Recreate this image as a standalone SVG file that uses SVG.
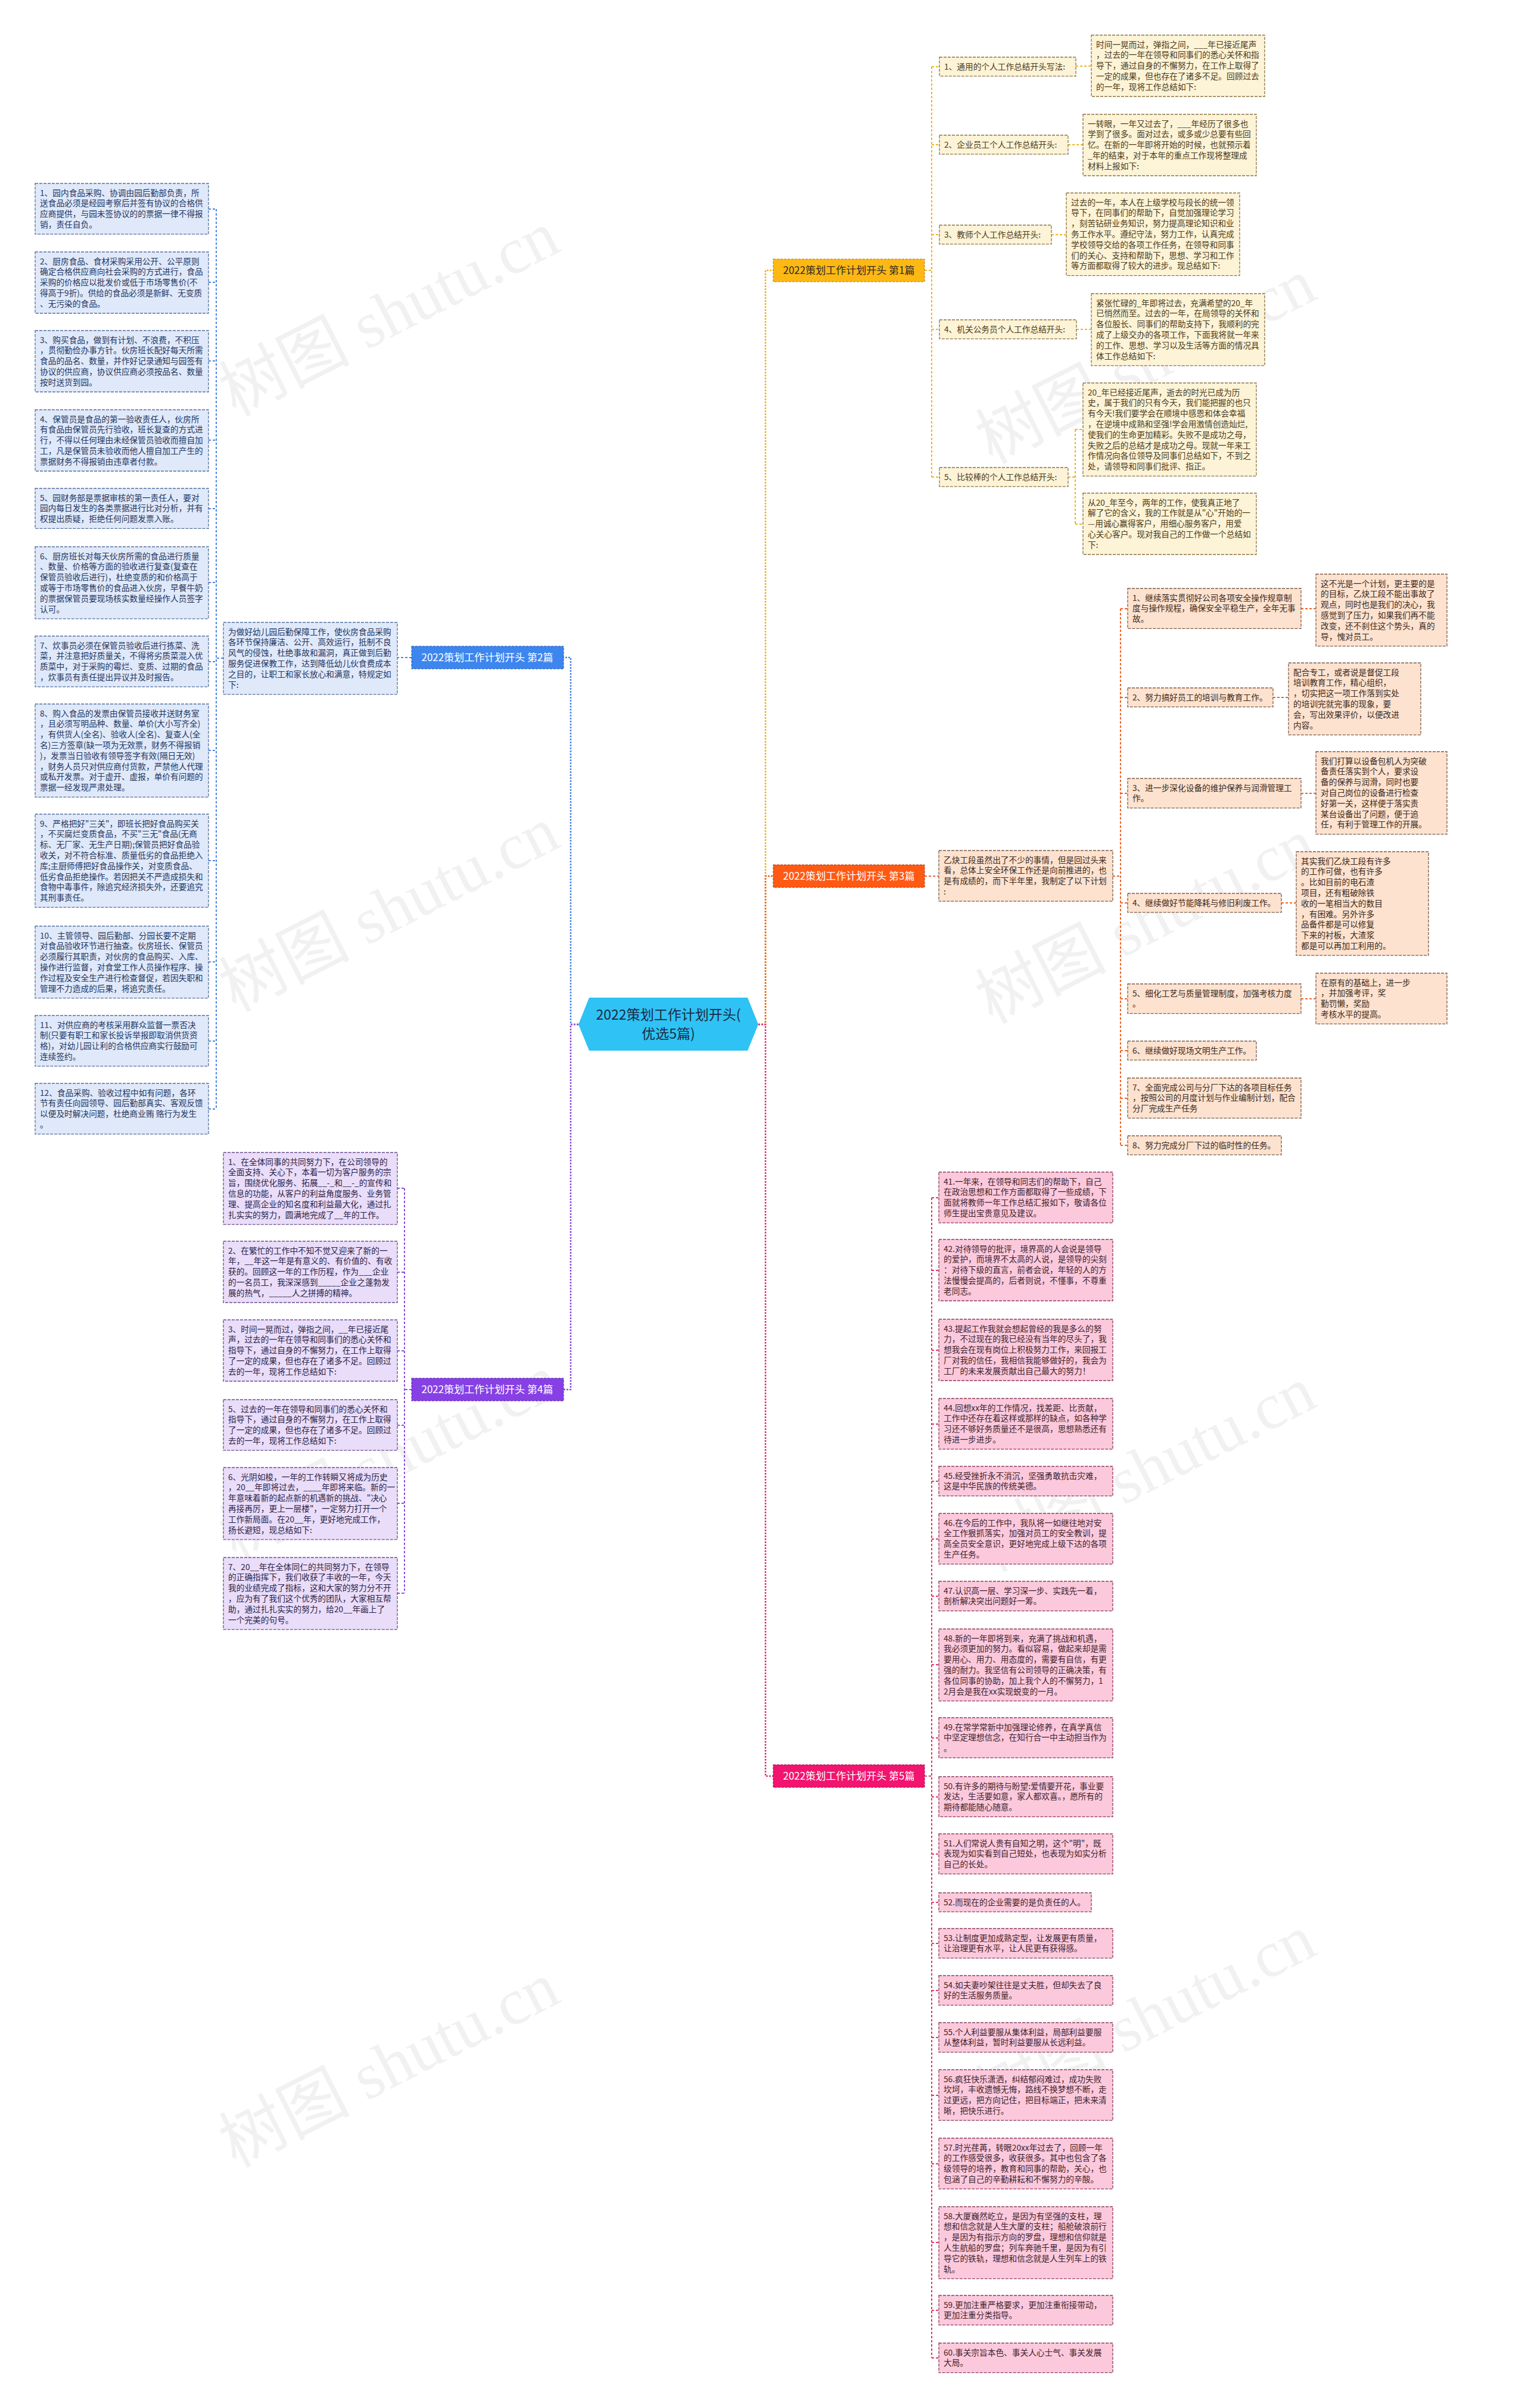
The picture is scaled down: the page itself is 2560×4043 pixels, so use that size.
<svg xmlns="http://www.w3.org/2000/svg" width="2560" height="4043" viewBox="0 0 2560 4043">
<style>
text{font-family:"Noto Sans CJK SC","Noto Sans",sans-serif}
.t{font-size:13.7px}
.wm{font-family:"Liberation Serif","Noto Sans CJK SC",serif;font-size:110px;fill:#000;opacity:.05}
.b1c rect{fill:#fdf3d6;stroke:#8c7440;stroke-width:1.3;stroke-dasharray:5 2}
.b1c text{fill:#4a3b1c}
.b2c rect{fill:#dfe9fa;stroke:#56709e;stroke-width:1.3;stroke-dasharray:5 2}
.b2c text{fill:#1f355e}
.b3c rect{fill:#fde2cf;stroke:#7d5c4a;stroke-width:1.3;stroke-dasharray:5 2}
.b3c text{fill:#3b2a20}
.b4c rect{fill:#e9ddfa;stroke:#6c4f8e;stroke-width:1.3;stroke-dasharray:5 2}
.b4c text{fill:#2c1f46}
.b5c rect{fill:#fcc9dc;stroke:#8c3c5c;stroke-width:1.3;stroke-dasharray:5 2}
.b5c text{fill:#3c1f2c}
.br text{font-size:17px;text-anchor:middle}
.c{fill:none;stroke-width:2;stroke-dasharray:4 3}
.c1{stroke:#f2b320}.c2{stroke:#4a86e8}.c3{stroke:#f0642a}.c4{stroke:#8b4fe0}.c5{stroke:#e8336f}
.m{fill:none;stroke-width:2.5;stroke-dasharray:3 2}
</style>
<rect width="2560" height="4043" fill="#fff"/>
<g id="watermarks">
<text class="wm" transform="translate(670,560) rotate(-27)" text-anchor="middle">树图 shutu.cn</text>
<text class="wm" transform="translate(670,1560) rotate(-27)" text-anchor="middle">树图 shutu.cn</text>
<text class="wm" transform="translate(670,2480) rotate(-27)" text-anchor="middle">树图 shutu.cn</text>
<text class="wm" transform="translate(670,3500) rotate(-27)" text-anchor="middle">树图 shutu.cn</text>
<text class="wm" transform="translate(1940,640) rotate(-27)" text-anchor="middle">树图 shutu.cn</text>
<text class="wm" transform="translate(1940,1580) rotate(-27)" text-anchor="middle">树图 shutu.cn</text>
<text class="wm" transform="translate(1940,2500) rotate(-27)" text-anchor="middle">树图 shutu.cn</text>
<text class="wm" transform="translate(1940,3420) rotate(-27)" text-anchor="middle">树图 shutu.cn</text>
</g>
<g id="connectors">
<path class="m c1" d="M1273 1720H1285V454H1298"/>
<path class="m c3" d="M1273 1720H1285V1471H1298"/>
<path class="m c5" d="M1273 1720H1285V2982H1298"/>
<path class="m c2" d="M971 1720H958V1104H946"/>
<path class="m c4" d="M971 1720H958V2333H946"/>
<path class="c c1" d="M1552 454H1564M1564 112V801M1564 112H1577M1564 243H1577M1564 394H1577M1564 553H1577M1564 801H1577"/>
<path class="c c1" d="M1806 111H1832M1793 243H1818M1765 394H1790M1807 553H1832M1793 801H1805M1805 721V880M1805 721H1818M1805 880H1818"/>
<path class="c c2" d="M691 1104H667M375 1105H363M363 351V1862M350 351H363M350 474H363M350 606H363M350 739H363M350 854H363M350 978H363M350 1111H363M350 1260H363M350 1445H363M350 1615H363M350 1748H363M350 1862H363"/>
<path class="c c3" d="M1552 1471H1576M1868 1471H1881M1881 1022V1923M1881 1022H1893M1881 1171H1893M1881 1332H1893M1881 1516H1893M1881 1677H1893M1881 1764H1893M1881 1844H1893M1881 1923H1893"/>
<path class="c c3" d="M2184 1022H2209M2137 1171H2163M2184 1332H2209M2151 1516H2176M2184 1677H2209"/>
<path class="c c4" d="M691 2333H679M679 1995V2675M667 1995H679M667 2136H679M667 2268H679M667 2393H679M667 2524H679M667 2675H679"/>
<path class="c c5" d="M1552 2982H1564M1564 2011V3959M1564 2011H1576M1564 2133H1576M1564 2267H1576M1564 2391H1576M1564 2487H1576M1564 2584H1576M1564 2680H1576M1564 2795H1576M1564 2918H1576M1564 3017H1576M1564 3113H1576M1564 3194H1576M1564 3263H1576M1564 3342H1576M1564 3421H1576M1564 3518H1576M1564 3633H1576M1564 3765H1576M1564 3879H1576M1564 3959H1576"/>
</g>
<g id="root">
<polygon points="971,1720 989,1675 1255,1675 1273,1720 1255,1764 989,1764" fill="#2ec3f4"/>
<text x="1122" y="1712" font-size="23" text-anchor="middle" fill="#1c2a44">2022策划工作计划开头(</text>
<text x="1122" y="1744" font-size="23" text-anchor="middle" fill="#1c2a44">优选5篇)</text>
</g>
<g id="branch1" class="br"><rect x="1298" y="435" width="254" height="38" fill="#fdb813" stroke="#b07c10" stroke-dasharray="4 2"/><text x="1425" y="460" fill="#2b2b2b">2022策划工作计划开头 第1篇</text></g>
<g id="branch2" class="br"><rect x="691" y="1085" width="255" height="38" fill="#3d86ef" stroke="#2457a8" stroke-dasharray="4 2"/><text x="818" y="1110" fill="#fff">2022策划工作计划开头 第2篇</text></g>
<g id="branch3" class="br"><rect x="1298" y="1452" width="254" height="38" fill="#ff5a14" stroke="#a83a0a" stroke-dasharray="4 2"/><text x="1425" y="1477" fill="#fff">2022策划工作计划开头 第3篇</text></g>
<g id="branch4" class="br"><rect x="691" y="2314" width="255" height="38" fill="#8740e6" stroke="#52229a" stroke-dasharray="4 2"/><text x="818" y="2339" fill="#fff">2022策划工作计划开头 第4篇</text></g>
<g id="branch5" class="br"><rect x="1298" y="2963" width="254" height="38" fill="#f2146e" stroke="#a00c48" stroke-dasharray="4 2"/><text x="1425" y="2988" fill="#fff">2022策划工作计划开头 第5篇</text></g>

<g id="b1-l1" class="b1c"><rect x="1577" y="96" width="229" height="31.8"/><text class="t" x="1585" y="116.5">1、通用的个人工作总结开头写法:</text></g>
<g id="b1-l2" class="b1c"><rect x="1577" y="227" width="216" height="31.8"/><text class="t" x="1585" y="247.5">2、企业员工个人工作总结开头:</text></g>
<g id="b1-l3" class="b1c"><rect x="1577" y="378" width="188" height="31.8"/><text class="t" x="1585" y="398.5">3、教师个人工作总结开头:</text></g>
<g id="b1-l4" class="b1c"><rect x="1577" y="537" width="230" height="31.8"/><text class="t" x="1585" y="557.5">4、机关公务员个人工作总结开头:</text></g>
<g id="b1-l5" class="b1c"><rect x="1577" y="785" width="216" height="31.8"/><text class="t" x="1585" y="805.5">5、比较棒的个人工作总结开头:</text></g>
<g id="b1-d1" class="b1c"><rect x="1832" y="59" width="291" height="103"/><text class="t" y="79.5"><tspan x="1840">时间一晃而过，弹指之间，___年已接近尾声</tspan><tspan x="1840" dy="17.8">，过去的一年在领导和同事们的悉心关怀和指</tspan><tspan x="1840" dy="17.8">导下，通过自身的不懈努力，在工作上取得了</tspan><tspan x="1840" dy="17.8">一定的成果，但也存在了诸多不足。回顾过去</tspan><tspan x="1840" dy="17.8">的一年，现将工作总结如下:</tspan></text></g>
<g id="b1-d2" class="b1c"><rect x="1818" y="192" width="291" height="103"/><text class="t" y="212.5"><tspan x="1826">一转眼，一年又过去了，___年经历了很多也</tspan><tspan x="1826" dy="17.8">学到了很多。面对过去，或多或少总要有些回</tspan><tspan x="1826" dy="17.8">忆。在新的一年即将开始的时候，也就预示着</tspan><tspan x="1826" dy="17.8">_年的结束，对于本年的重点工作现将整理成</tspan><tspan x="1826" dy="17.8">材料上报如下:</tspan></text></g>
<g id="b1-d3" class="b1c"><rect x="1790" y="324" width="291" height="138.6"/><text class="t" y="344.5"><tspan x="1798">过去的一年，本人在上级学校与段长的统一领</tspan><tspan x="1798" dy="17.8">导下，在同事们的帮助下，自觉加强理论学习</tspan><tspan x="1798" dy="17.8">，刻苦钻研业务知识，努力提高理论知识和业</tspan><tspan x="1798" dy="17.8">务工作水平。遵纪守法，努力工作，认真完成</tspan><tspan x="1798" dy="17.8">学校领导交给的各项工作任务，在领导和同事</tspan><tspan x="1798" dy="17.8">们的关心、支持和帮助下，思想、学习和工作</tspan><tspan x="1798" dy="17.8">等方面都取得了较大的进步。现总结如下:</tspan></text></g>
<g id="b1-d4" class="b1c"><rect x="1832" y="493" width="291" height="120.8"/><text class="t" y="513.5"><tspan x="1840">紧张忙碌的_年即将过去，充满希望的20_年</tspan><tspan x="1840" dy="17.8">已悄然而至。过去的一年，在局领导的关怀和</tspan><tspan x="1840" dy="17.8">各位股长、同事们的帮助支持下，我顺利的完</tspan><tspan x="1840" dy="17.8">成了上级交办的各项工作，下面我将就一年来</tspan><tspan x="1840" dy="17.8">的工作、思想、学习以及生活等方面的情况具</tspan><tspan x="1840" dy="17.8">体工作总结如下:</tspan></text></g>
<g id="b1-d5a" class="b1c"><rect x="1818" y="643" width="291" height="156.4"/><text class="t" y="663.5"><tspan x="1826">20_年已经接近尾声，逝去的时光已成为历</tspan><tspan x="1826" dy="17.8">史，属于我们的只有今天，我们能把握的也只</tspan><tspan x="1826" dy="17.8">有今天!我们要学会在顺境中感恩和体会幸福</tspan><tspan x="1826" dy="17.8">，在逆境中成熟和坚强!学会用激情创造灿烂,</tspan><tspan x="1826" dy="17.8">使我们的生命更加精彩。失败不是成功之母，</tspan><tspan x="1826" dy="17.8">失败之后的总结才是成功之母。现就一年来工</tspan><tspan x="1826" dy="17.8">作情况向各位领导及同事们总结如下，不到之</tspan><tspan x="1826" dy="17.8">处，请领导和同事们批评、指正。</tspan></text></g>
<g id="b1-d5b" class="b1c"><rect x="1818" y="828" width="291" height="103"/><text class="t" y="848.5"><tspan x="1826">从20_年至今，两年的工作，使我真正地了</tspan><tspan x="1826" dy="17.8">解了它的含义，我的工作就是从"心"开始的一</tspan><tspan x="1826" dy="17.8">—用诚心赢得客户，用细心服务客户，用爱</tspan><tspan x="1826" dy="17.8">心关心客户。现对我自己的工作做一个总结如</tspan><tspan x="1826" dy="17.8">下:</tspan></text></g>

<g id="b2-intro" class="b2c"><rect x="375" y="1045" width="292" height="120.8"/><text class="t" y="1065.5"><tspan x="383">为做好幼儿园后勤保障工作，使伙房食品采购</tspan><tspan x="383" dy="17.8">各环节保持廉洁、公开、高效运行，抵制不良</tspan><tspan x="383" dy="17.8">风气的侵蚀，杜绝事故和漏洞，真正做到后勤</tspan><tspan x="383" dy="17.8">服务促进保教工作，达到降低幼儿伙食费成本</tspan><tspan x="383" dy="17.8">之目的，让职工和家长放心和满意，特规定如</tspan><tspan x="383" dy="17.8">下:</tspan></text></g>
<g id="b2-1" class="b2c"><rect x="59" y="308" width="291" height="85.2"/><text class="t" y="328.5"><tspan x="67">1、园内食品采购、协调由园后勤部负责，所</tspan><tspan x="67" dy="17.8">送食品必须是经园考察后并签有协议的合格供</tspan><tspan x="67" dy="17.8">应商提供，与园未签协议的的票据一律不得报</tspan><tspan x="67" dy="17.8">销，责任自负。</tspan></text></g>
<g id="b2-2" class="b2c"><rect x="59" y="423" width="291" height="103"/><text class="t" y="443.5"><tspan x="67">2、厨房食品、食材采购采用公开、公平原则</tspan><tspan x="67" dy="17.8">确定合格供应商向社会采购的方式进行，食品</tspan><tspan x="67" dy="17.8">采购的价格应以批发价或低于市场零售价(不</tspan><tspan x="67" dy="17.8">得高于9折)。供给的食品必须是新鲜、无变质</tspan><tspan x="67" dy="17.8">、无污染的食品。</tspan></text></g>
<g id="b2-3" class="b2c"><rect x="59" y="555" width="291" height="103"/><text class="t" y="575.5"><tspan x="67">3、购买食品，做到有计划、不浪费，不积压</tspan><tspan x="67" dy="17.8">，贯彻勤俭办事方针。伙房班长配好每天所需</tspan><tspan x="67" dy="17.8">食品的品名、数量，并作好记录通知与园签有</tspan><tspan x="67" dy="17.8">协议的供应商，协议供应商必须按品名、数量</tspan><tspan x="67" dy="17.8">按时送货到园。</tspan></text></g>
<g id="b2-4" class="b2c"><rect x="59" y="688" width="291" height="103"/><text class="t" y="708.5"><tspan x="67">4、保管员是食品的第一验收责任人，伙房所</tspan><tspan x="67" dy="17.8">有食品由保管员先行验收，班长复查的方式进</tspan><tspan x="67" dy="17.8">行，不得以任何理由未经保管员验收而擅自加</tspan><tspan x="67" dy="17.8">工，凡是保管员未验收而他人擅自加工产生的</tspan><tspan x="67" dy="17.8">票据财务不得报销由违章者付款。</tspan></text></g>
<g id="b2-5" class="b2c"><rect x="59" y="820" width="291" height="67.4"/><text class="t" y="840.5"><tspan x="67">5、园财务部是票据审核的第一责任人，要对</tspan><tspan x="67" dy="17.8">园内每日发生的各类票据进行比对分析，并有</tspan><tspan x="67" dy="17.8">权提出质疑，拒绝任何问题发票入账。</tspan></text></g>
<g id="b2-6" class="b2c"><rect x="59" y="918" width="291" height="120.8"/><text class="t" y="938.5"><tspan x="67">6、厨房班长对每天伙房所需的食品进行质量</tspan><tspan x="67" dy="17.8">、数量、价格等方面的验收进行复查(复查在</tspan><tspan x="67" dy="17.8">保管员验收后进行)，杜绝变质的和价格高于</tspan><tspan x="67" dy="17.8">或等于市场零售价的食品进入伙房，早餐牛奶</tspan><tspan x="67" dy="17.8">的票据保管员要现场核实数量经操作人员签字</tspan><tspan x="67" dy="17.8">认可。</tspan></text></g>
<g id="b2-7" class="b2c"><rect x="59" y="1068" width="291" height="85.2"/><text class="t" y="1088.5"><tspan x="67">7、炊事员必须在保管员验收后进行拣菜、洗</tspan><tspan x="67" dy="17.8">菜，并注意把好质量关，不得将劣质菜混入优</tspan><tspan x="67" dy="17.8">质菜中，对于采购的霉烂、变质、过期的食品</tspan><tspan x="67" dy="17.8">，炊事员有责任提出异议并及时报告。</tspan></text></g>
<g id="b2-8" class="b2c"><rect x="59" y="1182" width="291" height="156.4"/><text class="t" y="1202.5"><tspan x="67">8、购入食品的发票由保管员接收并送财务室</tspan><tspan x="67" dy="17.8">，且必须写明品种、数量、单价(大小写齐全)</tspan><tspan x="67" dy="17.8">，有供货人(全名)、验收人(全名)、复查人(全</tspan><tspan x="67" dy="17.8">名)三方签章(缺一项为无效票，财务不得报销</tspan><tspan x="67" dy="17.8">)，发票当日验收有领导签字有效(隔日无效)</tspan><tspan x="67" dy="17.8">，财务人员只对供应商付货款，严禁他人代理</tspan><tspan x="67" dy="17.8">或私开发票。对于虚开、虚报，单价有问题的</tspan><tspan x="67" dy="17.8">票据一经发现严肃处理。</tspan></text></g>
<g id="b2-9" class="b2c"><rect x="59" y="1367" width="291" height="156.4"/><text class="t" y="1387.5"><tspan x="67">9、严格把好"三关"，即班长把好食品购买关</tspan><tspan x="67" dy="17.8">，不买腐烂变质食品，不买"三无"食品(无商</tspan><tspan x="67" dy="17.8">标、无厂家、无生产日期);保管员把好食品验</tspan><tspan x="67" dy="17.8">收关，对不符合标准、质量低劣的食品拒绝入</tspan><tspan x="67" dy="17.8">库;主厨师傅把好食品操作关，对变质食品、</tspan><tspan x="67" dy="17.8">低劣食品拒绝操作。若因把关不严造成损失和</tspan><tspan x="67" dy="17.8">食物中毒事件，除追究经济损失外，还要追究</tspan><tspan x="67" dy="17.8">其刑事责任。</tspan></text></g>
<g id="b2-10" class="b2c"><rect x="59" y="1555" width="291" height="120.8"/><text class="t" y="1575.5"><tspan x="67">10、主管领导、园后勤部、分园长要不定期</tspan><tspan x="67" dy="17.8">对食品验收环节进行抽查。伙房班长、保管员</tspan><tspan x="67" dy="17.8">必须履行其职责，对伙房的食品购买、入库、</tspan><tspan x="67" dy="17.8">操作进行监督，对食堂工作人员操作程序、操</tspan><tspan x="67" dy="17.8">作过程及安全生产进行检查督促，若因失职和</tspan><tspan x="67" dy="17.8">管理不力造成的后果，将追究责任。</tspan></text></g>
<g id="b2-11" class="b2c"><rect x="59" y="1705" width="291" height="85.2"/><text class="t" y="1725.5"><tspan x="67">11、对供应商的考核采用群众监督一票否决</tspan><tspan x="67" dy="17.8">制(只要有职工和家长投诉举报即取消供货资</tspan><tspan x="67" dy="17.8">格)，对幼儿园让利的合格供应商实行鼓励可</tspan><tspan x="67" dy="17.8">连续签约。</tspan></text></g>
<g id="b2-12" class="b2c"><rect x="59" y="1819" width="291" height="85.2"/><text class="t" y="1839.5"><tspan x="67">12、食品采购、验收过程中如有问题，各环</tspan><tspan x="67" dy="17.8">节有责任向园领导、园后勤部真实、客观反馈</tspan><tspan x="67" dy="17.8">以便及时解决问题，杜绝商业贿 赂行为发生</tspan><tspan x="67" dy="17.8">。</tspan></text></g>

<g id="b3-intro" class="b3c"><rect x="1576" y="1428" width="292" height="85.2"/><text class="t" y="1448.5"><tspan x="1584">乙炔工段虽然出了不少的事情，但是回过头来</tspan><tspan x="1584" dy="17.8">看，总体上安全环保工作还是向前推进的，也</tspan><tspan x="1584" dy="17.8">是有成绩的，而下半年里，我制定了以下计划</tspan><tspan x="1584" dy="17.8">:</tspan></text></g>
<g id="b3-1" class="b3c"><rect x="1893" y="988" width="291" height="67.4"/><text class="t" y="1008.5"><tspan x="1901">1、继续落实贯彻好公司各项安全操作规章制</tspan><tspan x="1901" dy="17.8">度与操作规程，确保安全平稳生产，全年无事</tspan><tspan x="1901" dy="17.8">故。</tspan></text></g>
<g id="b3-2" class="b3c"><rect x="1893" y="1155" width="244" height="31.8"/><text class="t" x="1901" y="1175.5">2、努力搞好员工的培训与教育工作。</text></g>
<g id="b3-3" class="b3c"><rect x="1893" y="1307" width="291" height="49.6"/><text class="t" y="1327.5"><tspan x="1901">3、进一步深化设备的维护保养与润滑管理工</tspan><tspan x="1901" dy="17.8">作。</tspan></text></g>
<g id="b3-4" class="b3c"><rect x="1893" y="1500" width="258" height="31.8"/><text class="t" x="1901" y="1520.5">4、继续做好节能降耗与修旧利废工作。</text></g>
<g id="b3-5" class="b3c"><rect x="1893" y="1652" width="291" height="49.6"/><text class="t" y="1672.5"><tspan x="1901">5、细化工艺与质量管理制度，加强考核力度</tspan><tspan x="1901" dy="17.8">。</tspan></text></g>
<g id="b3-6" class="b3c"><rect x="1893" y="1748" width="216" height="31.8"/><text class="t" x="1901" y="1768.5">6、继续做好现场文明生产工作。</text></g>
<g id="b3-7" class="b3c"><rect x="1893" y="1810" width="291" height="67.4"/><text class="t" y="1830.5"><tspan x="1901">7、全面完成公司与分厂下达的各项目标任务</tspan><tspan x="1901" dy="17.8">，按照公司的月度计划与作业编制计划，配合</tspan><tspan x="1901" dy="17.8">分厂完成生产任务</tspan></text></g>
<g id="b3-8" class="b3c"><rect x="1893" y="1907" width="258" height="31.8"/><text class="t" x="1901" y="1927.5">8、努力完成分厂下过的临时性的任务。</text></g>
<g id="b3-1d" class="b3c"><rect x="2209" y="964" width="220" height="120.8"/><text class="t" y="984.5"><tspan x="2217">这不光是一个计划，更主要的是</tspan><tspan x="2217" dy="17.8">的目标，乙炔工段不能出事故了</tspan><tspan x="2217" dy="17.8">观点，同时也是我们的决心，我</tspan><tspan x="2217" dy="17.8">感觉到了压力，如果我们再不能</tspan><tspan x="2217" dy="17.8">改变，还不刹住这个势头，真的</tspan><tspan x="2217" dy="17.8">导，愧对员工。</tspan></text></g>
<g id="b3-2d" class="b3c"><rect x="2163" y="1113" width="222" height="120.8"/><text class="t" y="1133.5"><tspan x="2171">配合专工，或者说是督促工段</tspan><tspan x="2171" dy="17.8">培训教育工作，精心组织，</tspan><tspan x="2171" dy="17.8">，切实把这一项工作落到实处</tspan><tspan x="2171" dy="17.8">的培训完就完事的现象，要</tspan><tspan x="2171" dy="17.8">会，写出效果评价，以便改进</tspan><tspan x="2171" dy="17.8">内容。</tspan></text></g>
<g id="b3-3d" class="b3c"><rect x="2209" y="1262" width="220" height="138.6"/><text class="t" y="1282.5"><tspan x="2217">我们打算以设备包机人为突破</tspan><tspan x="2217" dy="17.8">备责任落实到个人，要求设</tspan><tspan x="2217" dy="17.8">备的保养与润滑，同时也要</tspan><tspan x="2217" dy="17.8">对自己岗位的设备进行检查</tspan><tspan x="2217" dy="17.8">好第一关，这样便于落实责</tspan><tspan x="2217" dy="17.8">某台设备出了问题，便于追</tspan><tspan x="2217" dy="17.8">任，有利于管理工作的开展。</tspan></text></g>
<g id="b3-4d" class="b3c"><rect x="2176" y="1430" width="222" height="174.2"/><text class="t" y="1450.5"><tspan x="2184">其实我们乙炔工段有许多</tspan><tspan x="2184" dy="17.8">的工作可做，也有许多</tspan><tspan x="2184" dy="17.8">。比如目前的电石渣</tspan><tspan x="2184" dy="17.8">项目，还有粗破除铁</tspan><tspan x="2184" dy="17.8">收的一笔相当大的数目</tspan><tspan x="2184" dy="17.8">，有困难。另外许多</tspan><tspan x="2184" dy="17.8">品备件都是可以修复</tspan><tspan x="2184" dy="17.8">下来的衬板，大渣浆</tspan><tspan x="2184" dy="17.8">都是可以再加工利用的。</tspan></text></g>
<g id="b3-5d" class="b3c"><rect x="2209" y="1634" width="220" height="85.2"/><text class="t" y="1654.5"><tspan x="2217">在原有的基础上，进一步</tspan><tspan x="2217" dy="17.8">，并加强考评，奖</tspan><tspan x="2217" dy="17.8">勤罚懒，奖励</tspan><tspan x="2217" dy="17.8">考核水平的提高。</tspan></text></g>

<g id="b4-1" class="b4c"><rect x="375" y="1935" width="292" height="120.8"/><text class="t" y="1955.5"><tspan x="383">1、在全体同事的共同努力下，在公司领导的</tspan><tspan x="383" dy="17.8">全面支持、关心下，本着一切为客户服务的宗</tspan><tspan x="383" dy="17.8">旨，围绕优化服务、拓展__-_和__-_的宣传和</tspan><tspan x="383" dy="17.8">信息的功能，从客户的利益角度服务、业务管</tspan><tspan x="383" dy="17.8">理、提高企业的知名度和利益最大化，通过扎</tspan><tspan x="383" dy="17.8">扎实实的努力，圆满地完成了__年的工作。</tspan></text></g>
<g id="b4-2" class="b4c"><rect x="375" y="2084" width="292" height="103"/><text class="t" y="2104.5"><tspan x="383">2、在繁忙的工作中不知不觉又迎来了新的一</tspan><tspan x="383" dy="17.8">年，__年这一年是有意义的、有价值的、有收</tspan><tspan x="383" dy="17.8">获的。回顾这一年的工作历程，作为___企业</tspan><tspan x="383" dy="17.8">的一名员工，我深深感到_____企业之蓬勃发</tspan><tspan x="383" dy="17.8">展的热气，_____人之拼搏的精神。</tspan></text></g>
<g id="b4-3" class="b4c"><rect x="375" y="2216" width="292" height="103"/><text class="t" y="2236.5"><tspan x="383">3、时间一晃而过，弹指之间，__年已接近尾</tspan><tspan x="383" dy="17.8">声，过去的一年在领导和同事们的悉心关怀和</tspan><tspan x="383" dy="17.8">指导下，通过自身的不懈努力，在工作上取得</tspan><tspan x="383" dy="17.8">了一定的成果，但也存在了诸多不足。回顾过</tspan><tspan x="383" dy="17.8">去的一年，现将工作总结如下:</tspan></text></g>
<g id="b4-5" class="b4c"><rect x="375" y="2350" width="292" height="85.2"/><text class="t" y="2370.5"><tspan x="383">5、过去的一年在领导和同事们的悉心关怀和</tspan><tspan x="383" dy="17.8">指导下，通过自身的不懈努力，在工作上取得</tspan><tspan x="383" dy="17.8">了一定的成果，但也存在了诸多不足。回顾过</tspan><tspan x="383" dy="17.8">去的一年，现将工作总结如下:</tspan></text></g>
<g id="b4-6" class="b4c"><rect x="375" y="2464" width="292" height="120.8"/><text class="t" y="2484.5"><tspan x="383">6、光阴如梭，一年的工作转瞬又将成为历史</tspan><tspan x="383" dy="17.8">，20__年即将过去，____年即将来临。新的一</tspan><tspan x="383" dy="17.8">年意味着新的起点新的机遇新的挑战、"决心</tspan><tspan x="383" dy="17.8">再接再厉，更上一层楼"，一定努力打开一个</tspan><tspan x="383" dy="17.8">工作新局面。在20__年，更好地完成工作，</tspan><tspan x="383" dy="17.8">扬长避短，现总结如下:</tspan></text></g>
<g id="b4-7" class="b4c"><rect x="375" y="2615" width="292" height="120.8"/><text class="t" y="2635.5"><tspan x="383">7、20__年在全体同仁的共同努力下，在领导</tspan><tspan x="383" dy="17.8">的正确指挥下，我们收获了丰收的一年，今天</tspan><tspan x="383" dy="17.8">我的业绩完成了指标，这和大家的努力分不开</tspan><tspan x="383" dy="17.8">，应为有了我们这个优秀的团队，大家相互帮</tspan><tspan x="383" dy="17.8">助，通过扎扎实实的努力，给20__年画上了</tspan><tspan x="383" dy="17.8">一个完美的句号。</tspan></text></g>

<g id="b5-41" class="b5c"><rect x="1576" y="1968" width="292" height="85.2"/><text class="t" y="1988.5"><tspan x="1584">41.一年来，在领导和同志们的帮助下，自己</tspan><tspan x="1584" dy="17.8">在政治思想和工作方面都取得了一些成绩，下</tspan><tspan x="1584" dy="17.8">面就将教师一年工作总结汇报如下，敬请各位</tspan><tspan x="1584" dy="17.8">师生提出宝贵意见及建议。</tspan></text></g>
<g id="b5-42" class="b5c"><rect x="1576" y="2081" width="292" height="103"/><text class="t" y="2101.5"><tspan x="1584">42.对待领导的批评，境界高的人会说是领导</tspan><tspan x="1584" dy="17.8">的爱护，而境界不太高的人说，是领导的尖刻</tspan><tspan x="1584" dy="17.8">：对待下级的直言，前者会说，年轻的人的方</tspan><tspan x="1584" dy="17.8">法慢慢会提高的，后者则说，不懂事，不尊重</tspan><tspan x="1584" dy="17.8">老同志。</tspan></text></g>
<g id="b5-43" class="b5c"><rect x="1576" y="2215" width="292" height="103"/><text class="t" y="2235.5"><tspan x="1584">43.提起工作我就会想起曾经的我是多么的努</tspan><tspan x="1584" dy="17.8">力，不过现在的我已经没有当年的尽头了，我</tspan><tspan x="1584" dy="17.8">想我会在现有岗位上积极努力工作，来回报工</tspan><tspan x="1584" dy="17.8">厂对我的信任，我相信我能够做好的，我会为</tspan><tspan x="1584" dy="17.8">工厂的未来发展贡献出自己最大的努力！</tspan></text></g>
<g id="b5-44" class="b5c"><rect x="1576" y="2348" width="292" height="85.2"/><text class="t" y="2368.5"><tspan x="1584">44.回想xx年的工作情况，找差距、比贡献，</tspan><tspan x="1584" dy="17.8">工作中还存在着这样或那样的缺点，如各种学</tspan><tspan x="1584" dy="17.8">习还不够好务质量还不是很高，思想熟悉还有</tspan><tspan x="1584" dy="17.8">待进一步进步。</tspan></text></g>
<g id="b5-45" class="b5c"><rect x="1576" y="2462" width="292" height="49.6"/><text class="t" y="2482.5"><tspan x="1584">45.经受挫折永不消沉，坚强勇敢抗击灾难，</tspan><tspan x="1584" dy="17.8">这是中华民族的传统美德。</tspan></text></g>
<g id="b5-46" class="b5c"><rect x="1576" y="2541" width="292" height="85.2"/><text class="t" y="2561.5"><tspan x="1584">46.在今后的工作中，我队将一如继往地对安</tspan><tspan x="1584" dy="17.8">全工作狠抓落实，加强对员工的安全教训，提</tspan><tspan x="1584" dy="17.8">高全员安全意识，更好地完成上级下达的各项</tspan><tspan x="1584" dy="17.8">生产任务。</tspan></text></g>
<g id="b5-47" class="b5c"><rect x="1576" y="2655" width="292" height="49.6"/><text class="t" y="2675.5"><tspan x="1584">47.认识高一层、学习深一步、实践先一着，</tspan><tspan x="1584" dy="17.8">剖析解决突出问题好一筹。</tspan></text></g>
<g id="b5-48" class="b5c"><rect x="1576" y="2735" width="292" height="120.8"/><text class="t" y="2755.5"><tspan x="1584">48.新的一年即将到来，充满了挑战和机遇，</tspan><tspan x="1584" dy="17.8">我必须更加的努力。看似容易，做起来却是需</tspan><tspan x="1584" dy="17.8">要用心、用力、用态度的，需要有自信，有更</tspan><tspan x="1584" dy="17.8">强的耐力。我坚信有公司领导的正确决策，有</tspan><tspan x="1584" dy="17.8">各位同事的协助，加上我个人的不懈努力，1</tspan><tspan x="1584" dy="17.8">2月会是我在xx实现蜕变的一月。</tspan></text></g>
<g id="b5-49" class="b5c"><rect x="1576" y="2884" width="292" height="67.4"/><text class="t" y="2904.5"><tspan x="1584">49.在常学常新中加强理论修养，在真学真信</tspan><tspan x="1584" dy="17.8">中坚定理想信念，在知行合一中主动担当作为</tspan><tspan x="1584" dy="17.8">。</tspan></text></g>
<g id="b5-50" class="b5c"><rect x="1576" y="2983" width="292" height="67.4"/><text class="t" y="3003.5"><tspan x="1584">50.有许多的期待与盼望:爱情要开花，事业要</tspan><tspan x="1584" dy="17.8">发达，生活要如意，家人都欢喜。，愿所有的</tspan><tspan x="1584" dy="17.8">期待都能随心随意。</tspan></text></g>
<g id="b5-51" class="b5c"><rect x="1576" y="3079" width="292" height="67.4"/><text class="t" y="3099.5"><tspan x="1584">51.人们常说人贵有自知之明，这个"明"，既</tspan><tspan x="1584" dy="17.8">表现为如实看到自己短处，也表现为如实分析</tspan><tspan x="1584" dy="17.8">自己的长处。</tspan></text></g>
<g id="b5-52" class="b5c"><rect x="1576" y="3178" width="256" height="31.8"/><text class="t" x="1584" y="3198.5">52.而现在的企业需要的是负责任的人。</text></g>
<g id="b5-53" class="b5c"><rect x="1576" y="3238" width="292" height="49.6"/><text class="t" y="3258.5"><tspan x="1584">53.让制度更加成熟定型，让发展更有质量，</tspan><tspan x="1584" dy="17.8">让治理更有水平，让人民更有获得感。</tspan></text></g>
<g id="b5-54" class="b5c"><rect x="1576" y="3317" width="292" height="49.6"/><text class="t" y="3337.5"><tspan x="1584">54.如夫妻吵架往往是丈夫胜，但却失去了良</tspan><tspan x="1584" dy="17.8">好的生活服务质量。</tspan></text></g>
<g id="b5-55" class="b5c"><rect x="1576" y="3396" width="292" height="49.6"/><text class="t" y="3416.5"><tspan x="1584">55.个人利益要服从集体利益，局部利益要服</tspan><tspan x="1584" dy="17.8">从整体利益，暂时利益要服从长远利益。</tspan></text></g>
<g id="b5-56" class="b5c"><rect x="1576" y="3475" width="292" height="85.2"/><text class="t" y="3495.5"><tspan x="1584">56.疯狂快乐潇洒，纠结郁闷难过，成功失败</tspan><tspan x="1584" dy="17.8">坎坷，丰收遗憾无悔，路线不换梦想不断，走</tspan><tspan x="1584" dy="17.8">过更远，把方向记住，把目标端正，把未来清</tspan><tspan x="1584" dy="17.8">晰，把快乐进行。</tspan></text></g>
<g id="b5-57" class="b5c"><rect x="1576" y="3590" width="292" height="85.2"/><text class="t" y="3610.5"><tspan x="1584">57.时光荏苒，转眼20xx年过去了，回顾一年</tspan><tspan x="1584" dy="17.8">的工作感受很多，收获很多。其中也包含了各</tspan><tspan x="1584" dy="17.8">级领导的培养，教育和同事的帮助，关心，也</tspan><tspan x="1584" dy="17.8">包涵了自己的辛勤耕耘和不懈努力的辛酸。</tspan></text></g>
<g id="b5-58" class="b5c"><rect x="1576" y="3705" width="292" height="120.8"/><text class="t" y="3725.5"><tspan x="1584">58.大厦巍然屹立，是因为有坚强的支柱，理</tspan><tspan x="1584" dy="17.8">想和信念就是人生大厦的支柱；船舱破浪前行</tspan><tspan x="1584" dy="17.8">，是因为有指示方向的罗盘，理想和信仰就是</tspan><tspan x="1584" dy="17.8">人生航船的罗盘；列车奔驰千里，是因为有引</tspan><tspan x="1584" dy="17.8">导它的铁轨，理想和信念就是人生列车上的铁</tspan><tspan x="1584" dy="17.8">轨。</tspan></text></g>
<g id="b5-59" class="b5c"><rect x="1576" y="3854" width="292" height="49.6"/><text class="t" y="3874.5"><tspan x="1584">59.更加注重严格要求，更加注重衔接带动，</tspan><tspan x="1584" dy="17.8">更加注重分类指导。</tspan></text></g>
<g id="b5-60" class="b5c"><rect x="1576" y="3934" width="292" height="49.6"/><text class="t" y="3954.5"><tspan x="1584">60.事关宗旨本色、事关人心士气、事关发展</tspan><tspan x="1584" dy="17.8">大局。</tspan></text></g>
</svg>
